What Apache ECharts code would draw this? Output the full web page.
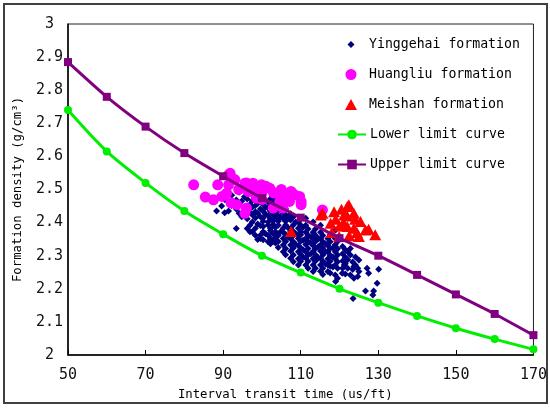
<!DOCTYPE html>
<html>
<head>
<meta charset="utf-8">
<script src="https://cdn.jsdelivr.net/npm/echarts@6/dist/echarts.min.js"></script>
<style>
  html, body { margin: 0; padding: 0; background: #fff; }
  #chart { width: 550px; height: 410px; }
</style>
</head>
<body>
<div id="chart"></div>
<script>
const xTicks = [50, 70, 90, 110, 130, 150, 170];

const curveX = [50, 60, 70, 80, 90, 100, 110, 120, 130, 140, 150, 160, 170];
const lowerY = [2.74, 2.615, 2.52, 2.435, 2.365, 2.30, 2.249, 2.20, 2.158, 2.118, 2.081, 2.048, 2.017];
const upperY = [2.885, 2.78, 2.69, 2.61, 2.54, 2.474, 2.415, 2.353, 2.30, 2.242, 2.183, 2.124, 2.06];

// Yinggehai: columns of density readings per transit time
const yingCols = [
  [88.3, [2.435]],
  [89.6, [2.45]],
  [90.4, [2.43, 2.47]],
  [91.4, [2.435, 2.462]],
  [92.2, [2.452, 2.483]],
  [93.4, [2.382, 2.441, 2.468]],
  [94.1, [2.454, 2.492, 2.428]],
  [94.8, [2.465, 2.418]],
  [95.5, [2.478, 2.436]],
  [96.2, [2.382, 2.447, 2.471, 2.412]],
  [96.9, [2.431, 2.455, 2.392, 2.372]],
  [97.5, [2.402, 2.424, 2.446, 2.466, 2.485, 2.372]],
  [98.3, [2.383, 2.414, 2.433, 2.452, 2.474, 2.362]],
  [98.9, [2.396, 2.428, 2.458, 2.349]],
  [99.6, [2.362, 2.391, 2.418, 2.441, 2.463, 2.481, 2.352]],
  [100.3, [2.372, 2.404, 2.414, 2.434, 2.455, 2.473, 2.348, 2.388]],
  [100.9, [2.426, 2.447, 2.366]],
  [101.6, [2.342, 2.362, 2.393, 2.421, 2.443, 2.462, 2.402]],
  [102.2, [2.353, 2.376, 2.382, 2.412, 2.434, 2.451, 2.472, 2.336]],
  [102.9, [2.344, 2.366, 2.394, 2.405, 2.423, 2.441, 2.459]],
  [103.5, [2.338, 2.354, 2.372, 2.386, 2.413, 2.432, 2.452, 2.468]],
  [104.2, [2.325, 2.343, 2.361, 2.392, 2.404, 2.421, 2.442, 2.461]],
  [104.8, [2.372, 2.416, 2.436]],
  [105.5, [2.332, 2.352, 2.371, 2.383, 2.412, 2.429, 2.448, 2.312]],
  [106.1, [2.303, 2.322, 2.343, 2.364, 2.393, 2.404, 2.423, 2.441]],
  [106.8, [2.356, 2.384, 2.414]],
  [107.4, [2.292, 2.314, 2.332, 2.351, 2.372, 2.382, 2.408, 2.427]],
  [108.1, [2.302, 2.323, 2.342, 2.361, 2.373, 2.393, 2.418, 2.282]],
  [108.7, [2.334, 2.366, 2.402]],
  [109.4, [2.291, 2.312, 2.331, 2.352, 2.362, 2.383, 2.401, 2.272]],
  [110.0, [2.283, 2.304, 2.323, 2.344, 2.363, 2.372, 2.392, 2.412]],
  [110.6, [2.296, 2.318, 2.347, 2.386]],
  [111.3, [2.272, 2.293, 2.312, 2.334, 2.352, 2.371, 2.392, 2.413]],
  [111.9, [2.283, 2.302, 2.322, 2.343, 2.362, 2.381, 2.262]],
  [112.6, [2.306, 2.338, 2.357]],
  [113.2, [2.272, 2.291, 2.313, 2.331, 2.352, 2.371, 2.252, 2.402]],
  [113.8, [2.262, 2.284, 2.303, 2.322, 2.343, 2.362, 2.381]],
  [114.5, [2.294, 2.327, 2.351]],
  [115.1, [2.253, 2.272, 2.292, 2.314, 2.332, 2.352, 2.371, 2.392]],
  [115.7, [2.243, 2.262, 2.283, 2.302, 2.323, 2.342, 2.361]],
  [116.4, [2.276, 2.312, 2.336]],
  [117.0, [2.252, 2.272, 2.291, 2.312, 2.331, 2.352]],
  [117.6, [2.248, 2.268, 2.283, 2.301, 2.322, 2.342, 2.363]],
  [118.3, [2.266, 2.296, 2.324]],
  [118.9, [2.242, 2.272, 2.291, 2.312, 2.333, 2.352]],
  [119.0, [2.222, 2.378]],
  [119.5, [2.232, 2.262, 2.282, 2.302, 2.321, 2.343]],
  [120.7, [2.247]],
  [120.8, [2.262, 2.284, 2.306, 2.328]],
  [121.2, [2.272]],
  [121.5, [2.245, 2.276, 2.295, 2.318]],
  [122.1, [2.262, 2.288, 2.312]],
  [122.8, [2.242, 2.302, 2.322]],
  [123.4, [2.258, 2.281]],
  [123.5, [2.171]],
  [123.7, [2.232, 2.267]],
  [124.1, [2.272, 2.296]],
  [124.7, [2.237, 2.262]],
  [125.0, [2.252, 2.287]],
  [126.7, [2.193]],
  [127.1, [2.262]],
  [127.5, [2.247]],
  [128.6, [2.181]],
  [128.8, [2.193]],
  [129.7, [2.217]],
  [130.1, [2.259]]
];

const huangliu = [
  [82.4, 2.514], [85.4, 2.477], [87.5, 2.469], [88.6, 2.514], [89.7, 2.479],
  [91.4, 2.544], [91.4, 2.514], [90.9, 2.489], [93.5, 2.454], [95.6, 2.519],
  [95.6, 2.428], [96.5, 2.494], [96.0, 2.444], [91.8, 2.549], [97.7, 2.519],
  [99.9, 2.514], [102.0, 2.504], [98.6, 2.474], [102.9, 2.444], [104.6, 2.464],
  [105.4, 2.444], [107.1, 2.464], [107.5, 2.494], [109.7, 2.479], [110.1, 2.454],
  [108.4, 2.484], [110.1, 2.464], [115.6, 2.438], [99, 2.50], [100, 2.49],
  [101, 2.51], [103, 2.49], [98, 2.49], [97, 2.50], [94, 2.50], [93, 2.53],
  [92, 2.46], [100, 2.47], [104, 2.49], [106, 2.48], [105, 2.50], [96, 2.52]
];

const meishan = [
  [115.6, 2.428], [118.6, 2.433], [122.4, 2.454], [121.2, 2.423], [123.7, 2.428],
  [125.4, 2.403], [126.7, 2.378], [129.2, 2.363], [125.0, 2.358], [119.9, 2.358],
  [117.7, 2.398], [122.0, 2.388], [123.7, 2.383], [115.2, 2.423], [107.5, 2.373],
  [122.0, 2.449], [120.5, 2.44], [119, 2.41], [121, 2.40], [124, 2.41],
  [122, 2.42], [120, 2.39], [124.5, 2.37], [118, 2.37], [127.5, 2.38], [122.5, 2.36]
];

const yinggehai = [];
yingCols.forEach(c => c[1].forEach(y => yinggehai.push([c[0], y])));

const font = "'DejaVu Sans Mono', 'Liberation Mono', monospace";

const chart = echarts.init(document.getElementById("chart"));

// one legend per row so each icon keeps its own size; text starts at x=369
const legendRow = (name, centerY, w, h) => ({
  data: [name],
  orient: "vertical",
  left: 351 - w / 2,
  top: centerY - 7,
  padding: 0,
  itemWidth: w,
  itemHeight: h,
  itemGap: 0,
  textStyle: {
    fontFamily: font,
    fontSize: 13.2,
    color: "#000",
    padding: [0, 0, 0, 369 - (351 + w / 2 + 5)],
  },
});

chart.setOption({
  backgroundColor: "#fff",
  animation: false,
  textStyle: { fontFamily: font },
  graphic: [
    {
      type: "rect",
      shape: { x: 4, y: 4, width: 543, height: 399 },
      style: { fill: "none", stroke: "#404040", lineWidth: 2 },
      silent: true,
    },
  ],
  grid: {
    left: 68,
    right: 12,
    top: 24,
    bottom: 55,
    show: true,
    borderColor: "#222",
    borderWidth: 1,
  },
  legend: [
    legendRow("Yinggehai formation", 45, 7, 7),
    legendRow("Huangliu formation", 75, 11, 11),
    legendRow("Meishan formation", 105, 12, 11),
    legendRow("Lower limit curve", 135, 28, 12),
    legendRow("Upper limit curve", 165, 28, 12),
  ],
  xAxis: {
    type: "value",
    min: 50,
    max: 170,
    interval: 20,
    name: "Interval transit time (us/ft)",
    nameLocation: "middle",
    nameGap: 34,
    nameTextStyle: { fontFamily: font, fontSize: 12.3, color: "#000", padding: [0, 31, 0, 0] },
    axisLine: { lineStyle: { color: "#000", width: 1.5 } },
    axisTick: { inside: true, length: 5, lineStyle: { color: "#000" } },
    axisLabel: {
      fontFamily: font,
      fontSize: 15,
      color: "#111",
      margin: 13,
      formatter: v => (xTicks.includes(v) ? String(v) : ""),
    },
    splitLine: { show: false },
  },
  yAxis: {
    type: "value",
    min: 2,
    max: 3,
    interval: 0.1,
    name: "Formation density (g/cm³)",
    nameLocation: "middle",
    nameGap: 44,
    nameTextStyle: { fontFamily: font, fontSize: 12.3, color: "#000" },
    axisLine: { show: true, lineStyle: { color: "#000", width: 1.5 } },
    axisTick: { show: false },
    axisLabel: {
      fontFamily: font,
      fontSize: 15,
      color: "#111",
      margin: 5,
      formatter: v => (Number.isInteger(Math.round(v * 10) / 10) ? Math.round(v) + " " : v.toFixed(1)),
    },
    splitLine: { show: false },
  },
  series: [
    {
      name: "Yinggehai formation",
      type: "scatter",
      symbol: "diamond",
      symbolSize: [7, 7],
      itemStyle: { color: "#000080", opacity: 1 },
      data: yinggehai,
      z: 2,
    },
    {
      name: "Huangliu formation",
      type: "scatter",
      symbol: "circle",
      symbolSize: 11,
      itemStyle: { color: "#ff00ff", opacity: 1 },
      data: huangliu,
      z: 3,
    },
    {
      name: "Meishan formation",
      type: "scatter",
      symbol: "triangle",
      symbolSize: [12, 11],
      itemStyle: { color: "#ff0000", opacity: 1 },
      data: meishan,
      z: 4,
    },
    {
      name: "Lower limit curve",
      type: "line",
      smooth: 0.3,
      symbol: "circle",
      symbolSize: 8,
      showAllSymbol: true,
      lineStyle: { color: "#00ee00", width: 3 },
      itemStyle: { color: "#00ee00", borderWidth: 0 },
      data: curveX.map((x, i) => [x, lowerY[i]]),
      z: 5,
    },
    {
      name: "Upper limit curve",
      type: "line",
      smooth: 0.2,
      symbol: "rect",
      symbolSize: 8,
      showAllSymbol: true,
      lineStyle: { color: "#800080", width: 3 },
      itemStyle: { color: "#800080", borderWidth: 0 },
      data: curveX.map((x, i) => [x, upperY[i]]),
      z: 5,
    },
  ],
});
</script>
</body>
</html>
